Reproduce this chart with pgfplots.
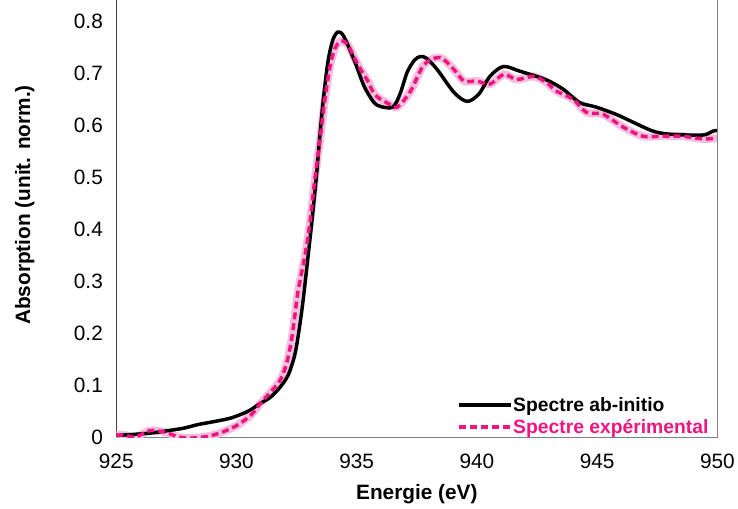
\documentclass[border=0pt]{standalone}
\usepackage{pgfplots}
\pgfplotsset{compat=1.18}
\usepackage{fontspec}
\setmainfont{Liberation Sans}
\definecolor{expink}{RGB}{240,20,130}
\definecolor{bandpink}{RGB}{245,190,220}
\begin{document}
\begin{tikzpicture}
\begin{axis}[
  name=ax,
  scale only axis,
  width=605bp, height=440bp,
  xmin=925, xmax=950, ymin=0, ymax=0.84,
  xtick={925,930,935,940,945,950},
  ytick={0,0.1,0.2,0.3,0.4,0.5,0.6,0.7,0.8},
  axis x line*=bottom, axis y line*=left,
  axis line style={-},
  x axis line style={draw=gray},
  y axis line style={draw=black!75},
  major tick length=0pt,
  /pgf/number format/assume math mode=true,
  tick label style={font=\fontsize{21}{25}\selectfont},
  yticklabel style={/pgf/number format/fixed,/pgf/number format/precision=1, xshift=-10bp},
  xticklabel style={yshift=-13bp},
  xlabel={Energie (eV)},
  ylabel={Absorption (unit. norm.)},
  every axis x label/.style={at={(rel axis cs:0.5,0)}, anchor=center, yshift=-57bp,
    font=\fontsize{21}{25}\selectfont\bfseries},
  every axis y label/.style={at={(rel axis cs:0,0.532)}, anchor=center, rotate=90, yshift=92bp,
    font=\fontsize{21}{25}\selectfont\bfseries},
  legend style={at={(rel axis cs:0.567,0.094)}, anchor=north west, draw=none, fill=none,
    inner sep=0pt, font=\fontsize{19.5}{22}\selectfont\bfseries, row sep=4.5bp,
    nodes={inner sep=0.8bp}},
  legend cell align=left,
  legend image code/.code={\draw[#1] (0bp,0bp) -- (52bp,0bp);},
]
\addplot[bandpink, line width=8bp, smooth, forget plot] coordinates {
(925.0,0.005) (925.4,0.004) (925.8,0.001) (926.36,0.013) (926.7,0.013) (927.07,0.010)
(927.6,0.001) (928.0,-0.001) (928.43,0.000) (928.97,0.004) (929.55,0.013) (930.08,0.025)
(930.62,0.044) (931.0,0.066) (931.39,0.086) (931.8,0.109) (932.07,0.140) (932.28,0.185)
(932.43,0.235) (932.56,0.281) (932.85,0.350) (933.06,0.415) (933.26,0.497) (933.47,0.570)
(933.66,0.644) (933.9,0.715) (934.1,0.748) (934.35,0.762) (934.63,0.755) (934.9,0.730)
(935.17,0.707) (935.45,0.686) (935.66,0.666) (935.87,0.654) (936.3,0.642)
(936.69,0.635) (937.23,0.665) (937.81,0.717) (938.47,0.730) (939.05,0.707) (939.46,0.685)
(940.0,0.685) (940.54,0.679) (941.12,0.698) (941.65,0.688) (942.36,0.694) (942.9,0.682)
(943.3,0.666) (944.0,0.650) (944.55,0.625) (945.25,0.621) (946.07,0.597) (946.9,0.579)
(947.73,0.579) (948.55,0.579) (949.38,0.574) (950.0,0.575)
};
\addplot[black, line width=3.5bp, smooth] coordinates {
(925.0,0.004) (925.7,0.006) (926.5,0.009) (927.1,0.013) (927.8,0.018) (928.4,0.025)
(929.1,0.031) (929.8,0.038) (930.5,0.051) (931.0,0.066) (931.4,0.077) (931.8,0.096)
(932.15,0.120) (932.43,0.160) (932.63,0.215) (932.8,0.275) (933.1,0.400) (933.3,0.490)
(933.46,0.575) (933.6,0.644) (933.8,0.721) (934.0,0.763) (934.21,0.779) (934.45,0.772)
(934.9,0.725) (935.3,0.676) (935.7,0.645) (936.0,0.636) (936.5,0.635) (936.8,0.660)
(937.1,0.702) (937.4,0.725) (937.64,0.732) (937.9,0.729) (938.35,0.707) (939.05,0.663)
(939.59,0.646) (940.08,0.660) (940.54,0.694) (941.1,0.713) (941.78,0.704) (942.48,0.694)
(943.0,0.685) (943.6,0.669) (944.26,0.644) (944.96,0.635) (945.79,0.621) (946.49,0.606)
(947.31,0.589) (947.98,0.583) (949.09,0.581) (949.5,0.582) (949.83,0.589) (950.0,0.590)
};
\addlegendentry{Spectre ab-initio}
\addplot[expink, line width=3.5bp, dash pattern=on 7bp off 4bp, smooth] coordinates {
(925.0,0.005) (925.4,0.004) (925.8,0.001) (926.36,0.013) (926.7,0.013) (927.07,0.010)
(927.6,0.001) (928.0,-0.001) (928.43,0.000) (928.97,0.004) (929.55,0.013) (930.08,0.025)
(930.62,0.044) (931.0,0.066) (931.39,0.086) (931.8,0.109) (932.07,0.140) (932.28,0.185)
(932.43,0.235) (932.56,0.281) (932.85,0.350) (933.06,0.415) (933.26,0.497) (933.47,0.570)
(933.66,0.644) (933.9,0.715) (934.1,0.748) (934.35,0.762) (934.63,0.755) (934.9,0.730)
(935.17,0.707) (935.45,0.686) (935.66,0.666) (935.87,0.654) (936.3,0.642)
(936.69,0.635) (937.23,0.665) (937.81,0.717) (938.47,0.730) (939.05,0.707) (939.46,0.685)
(940.0,0.685) (940.54,0.679) (941.12,0.698) (941.65,0.688) (942.36,0.694) (942.9,0.682)
(943.3,0.666) (944.0,0.650) (944.55,0.625) (945.25,0.621) (946.07,0.597) (946.9,0.579)
(947.73,0.579) (948.55,0.579) (949.38,0.574) (950.0,0.575)
};
\addlegendentry{\textcolor{expink}{Spectre expérimental}}
\end{axis}
\draw[gray, line width=0.8bp] (ax.south east) -- (ax.north east);
\path (ax.south west) ++(-117bp,-71bp) coordinate (bbA);
\path (ax.north east) ++(16bp,0bp) coordinate (bbB);
\path[draw=none] (bbA) rectangle (bbB);
\end{tikzpicture}
\end{document}
